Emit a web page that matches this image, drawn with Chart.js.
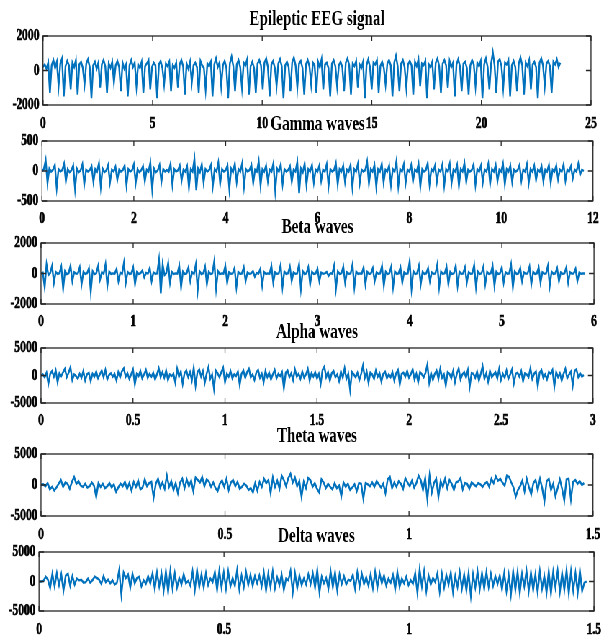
<!DOCTYPE html>
<html><head><meta charset="utf-8">
<script src="https://cdn.jsdelivr.net/npm/chart.js@4.4.0/dist/chart.umd.min.js"></script>
<style>
html,body{margin:0;padding:0;background:#fff;width:604px;height:638px;overflow:hidden}
#wrap{position:absolute;left:0;top:0;width:839px;height:638px;transform:scaleX(0.71990);transform-origin:0 0}
#wrap canvas{position:absolute;left:0}
</style></head><body><div id="wrap"></div>
<script>
// ---------- data ----------
const titles = ["Epileptic EEG signal","Gamma waves","Beta waves","Alpha waves","Theta waves","Delta waves"];
const xMaxes = [25, 12, 6, 3, 1.5, 1.5];
const xSteps = [5, 2, 1, 0.5, 0.5, 0.5];
const yLimits = [2000, 500, 2000, 5000, 5000, 5000];
const endTimes = [23.6, 11.8, 5.9, 2.95, 1.476, 1.48];

const epilepticValues = [
200,350,100,450,-1300,300,600,150,500,-900,400,700,-1500,250,550,300,-1100,450,200,600,-1400,350,500,150,-800,
400,650,200,-1600,300,500,100,450,-1000,350,600,250,-1300,400,150,500,-700,300,550,200,-1200,450,100,350,-1500,
300,600,200,450,-900,350,150,500,-1300,250,400,600,-1100,200,450,300,-1600,350,550,150,-800,400,250,500,-1200,
300,150,450,-1000,350,600,250,-1400,400,100,500,-700,300,450,200,-1300,550,300,150,-1100,400,250,500,-1500,350,
700,200,450,-900,300,550,150,-1600,400,800,250,-1200,350,600,200,-1000,450,300,650,-1400,250,500,150,-1300,400,
600,300,-1100,450,700,200,-1500,350,550,150,-900,400,650,250,-1600,300,500,200,-1200,450,750,300,-1000,400,550,
150,-1400,350,600,250,-800,450,300,-1300,500,200,650,-1100,350,450,150,-1500,400,600,250,-900,300,500,200,-1200,
450,700,300,-1400,400,250,550,-1000,350,150,500,-1600,300,650,200,-1100,450,350,600,-1300,250,500,150,-800,400,
600,300,-1500,450,850,250,-1200,400,600,200,-1000,350,550,300,-1400,500,250,650,-900,400,300,550,-1600,350,200,
500,-1100,450,700,250,-1300,400,600,300,-1000,550,200,450,-1500,350,650,250,-1200,400,500,150,-1400,300,600,350,
-900,450,250,550,-1600,350,700,200,-1100,400,1050,300,-1300,500,650,250,-1000,450,350,600,-1500,300,550,200,-1200,
400,750,300,-1400,450,250,600,-1100,350,500,200,-1600,450,700,300,-900,400,550,250,-1300,500,350,650,200,450
];

const gammaValues = [
0,30,180,-200,40,-10,20,100,-280,30,-10,15,120,-170,30,-20,10,90,-300,40,-20,10,110,-220,20,
-10,15,80,-180,30,-10,130,-260,40,-20,10,100,-190,20,-10,70,-150,20,-10,15,90,-240,30,-10,10,
110,-200,30,-20,10,80,-170,20,-10,140,-300,40,-20,10,100,-180,30,-10,15,-10,120,-230,30,-10,10,
90,-160,20,-10,80,-280,30,-10,200,-320,40,-20,110,-190,30,-10,15,100,-250,30,-10,140,-210,30,-10,
10,90,-300,40,-20,120,-180,30,-10,130,-260,30,-10,15,100,-200,20,-10,160,-240,30,-10,90,-170,20,
-10,130,-330,40,-10,110,-220,30,-10,15,80,-180,20,-10,150,-370,40,-20,120,-230,30,-10,100,-190,20,
-10,90,-160,20,-10,110,-250,30,-10,15,130,-220,30,-10,90,-180,20,-10,100,-270,30,-10,120,-200,20,
-10,15,160,-210,30,-10,100,-260,30,-10,120,-190,20,-10,90,-230,30,-10,170,-250,30,-10,110,-200,20,
-10,100,-170,20,-10,120,-260,30,-10,15,130,-220,30,-10,90,-180,20,-10,110,-240,30,-10,120,-200,20,
-10,100,-250,30,-10,130,-180,20,-10,15,110,-230,30,-10,90,-190,20,-10,120,-210,30,-10,100,-170,20,
-10,120,-220,30,-10,90,-180,20,-10,15,100,-160,20,-10,110,-200,30,-10,90,-150,20,-10,80,-170,20,
-10,100,-190,20,-10,90,-140,20,-10,110,-160,20,-10,80,-120,20,-10,120,-60,20,0
];

const betaValues = [
0,50,-900,600,-100,30,500,-600,100,-30,20,450,-1000,150,-40,20,500,-500,80,-20,10,400,-700,100,-30,
20,350,-1200,150,-40,10,500,-400,80,-20,600,-800,120,-30,10,-10,300,-500,60,-20,700,-600,100,-30,10,
400,-700,90,-30,20,200,-250,40,-10,350,-500,70,-20,10,900,-1300,600,-100,30,700,-600,100,-30,10,-10,
500,-900,120,-30,10,400,-500,80,-20,600,-1100,150,-40,10,450,-700,100,-30,10,800,-1000,150,-40,10,-10,
500,-600,80,-20,10,350,-900,100,-30,10,400,-500,70,-20,10,150,-200,30,-10,300,-800,90,-30,10,-10,
500,-600,80,-20,10,550,-900,120,-30,10,450,-500,70,-20,10,600,-1000,150,-40,10,400,-700,100,-30,10,
300,-500,60,-20,10,100,-150,20,-10,500,-1000,130,-30,10,450,-600,80,-20,10,600,-900,120,-30,10,-10,
400,-700,100,-30,10,350,-500,70,-20,10,500,-800,110,-30,10,450,-900,120,-30,10,400,-600,80,-20,10,
800,-1000,150,-40,10,500,-700,100,-30,10,350,-500,70,-20,10,600,-900,120,-30,10,450,-700,100,-30,10,
500,-800,110,-30,10,400,-600,80,-20,10,550,-900,120,-30,10,450,-700,100,-30,10,500,-800,110,-30,10,
400,-600,80,-20,10,600,-900,120,-30,10,350,-500,70,-20,10,450,-700,100,-30,10,400,-600,80,-20,10,
500,-800,110,-30,10,350,-500,70,-20,10,400,-600,80,-20,10,300,-500,60,-20,10,0
];

const alphaValues = [
0,200,-300,500,-1500,300,800,-200,900,-1200,400,-100,600,1200,-300,500,1500,-800,200,-100,
-600,300,-400,800,-900,200,500,-1000,300,-200,700,-500,200,900,-300,1000,-700,100,400,-200,
300,-900,600,-300,800,1300,-200,400,-600,200,1100,-1600,300,-100,800,-500,200,1000,-400,300,
-200,500,-700,200,1300,-300,600,-400,900,-800,200,-100,300,-1300,1200,-200,700,-1500,400,900,
-300,600,-900,1400,-1800,600,1100,-200,800,-1300,300,1500,-600,200,-2400,900,400,-300,600,1400,
-1200,300,-200,800,-500,200,-100,700,-1700,300,900,-400,600,1200,-300,200,-800,500,1000,-400,
300,-1200,800,-300,500,-700,200,1000,-500,300,-100,600,-2300,500,900,-300,400,-800,1100,-200,
300,-600,700,-400,200,1200,-900,400,-200,600,-500,300,-1500,1000,1600,-300,600,-900,400,800,
-300,200,-1000,700,-400,1300,-600,300,-2600,600,200,-300,500,-800,300,1800,-400,700,-1300,500,
200,-600,900,-200,400,-1100,300,700,-500,200,-300,600,-900,400,1000,-1600,300,500,-200,800,
-400,200,1100,-700,300,-1200,600,200,-300,500,2000,-1300,400,-800,300,900,-600,1200,-400,200,
-1800,600,300,-500,800,-1200,300,1300,-700,200,600,-300,1000,-2000,400,300,-400,700,-900,300,
1700,-600,400,-1100,800,-300,200,600,-500,1200,-800,300,-400,900,-600,200,1100,-1400,300,500,
-200,800,-1000,400,200,-300,1300,-600,300,700,-1900,500,1000,-400,200,-700,600,300,1000,-2000,
600,-300,400,-900,300,1200,-500,200,700,-1800,800,1100,-300,400,-200,100
];

const thetaValues = [
0,100,-200,300,-700,-300,-900,-400,200,800,-300,400,200,-600,500,1300,200,600,-100,-300,
200,-400,-200,400,-100,-1900,300,-300,200,-500,-200,300,-400,100,-1100,-400,200,-200,500,-600,
300,-900,500,-300,700,-700,-400,900,-200,300,500,-2000,200,1000,-400,400,-600,1500,-300,600,
-800,300,-1300,400,1000,-500,900,-200,700,-1000,1200,800,400,1300,-200,900,600,-300,400,-500,
-1000,200,700,-300,1000,-800,400,800,-200,500,-600,-300,200,-100,-800,-500,-1200,300,-900,500,
-300,1000,300,800,-1300,1200,-300,700,-600,1500,800,-200,1100,1800,400,1200,-200,600,-1900,500,
-500,1100,800,-300,300,-600,-1200,900,400,-500,200,-300,-700,300,-500,-100,-1800,400,-300,200,
-800,-400,100,-1000,300,200,-2200,300,100,-200,400,-300,600,100,-400,200,-1300,900,1300,-500,
400,-300,600,200,-600,1100,400,-200,700,-400,300,1500,800,-800,1100,-2300,1500,-1200,300,1000,
-1900,600,-300,1000,-500,800,200,-800,400,600,1100,-700,300,200,-600,400,100,-200,300,100,
-300,200,500,-300,1000,300,1400,700,1000,400,-100,1500,1300,400,-400,-1900,-800,-200,700,-1000,
1000,-300,-1500,300,800,-800,1000,-500,-2600,600,1000,-800,200,-1800,-500,900,-600,-2500,900,1000,
-2300,500,800,200,600,0,300
];

const deltaValues = [
0,0,100,800,300,-1100,1300,-800,1400,-600,1200,-1500,1000,1300,-700,900,-500,500,200,300,
-200,-100,500,-200,200,800,600,300,-400,900,-100,300,-300,200,-500,-200,1900,-2200,1500,600,
1200,-1000,1300,-300,600,800,-800,200,-400,900,-300,1400,-1200,1500,-800,1400,-1500,1700,-1700,1800,
-1200,1400,-1000,600,-500,1200,-300,100,-700,1700,-1400,1900,-900,1200,-1000,1400,-600,500,-100,1600,
-1400,1800,-1000,1500,-1200,1700,-800,600,-700,1900,-1300,1000,-900,1600,-600,1100,-700,900,-300,1000,
-800,1500,-1500,1300,-900,1700,-1100,700,-600,1200,-1400,500,200,1800,-1800,1400,-1100,1000,-600,500,
-500,1200,-400,1400,-1000,1900,-1800,800,-300,600,-1200,1700,-900,1500,-1500,1200,-400,900,-500,300,
100,1100,-1200,1500,-800,1300,-400,700,-700,1200,-1100,1600,-1000,1400,-300,1000,-700,500,-200,1100,
-1300,1600,-900,500,-300,800,-600,200,-400,1400,-1900,2000,-800,1700,-1600,1000,-500,600,-100,1400,
-1700,1300,-1000,1100,-500,1500,-1800,900,-900,1600,-1200,1200,-1500,1400,-2400,1200,-1000,1700,-1300,1400,
-1200,1600,-900,1300,-700,900,-400,1000,-1300,1400,-1600,1100,-2200,1700,-1400,1600,-1900,1300,-800,1800,
-1600,1500,-1400,1200,-1800,1700,-1200,900,-1900,1700,-2000,1600,-1000,1800,-1700,1400,-1400,1900,-2000,1700,
-1500,1400,-1900,1800,-1600,-200,0
];

const seriesValues = [epilepticValues, gammaValues, betaValues, alphaValues, thetaValues, deltaValues];

// ---------- layout (original pixel coords) ----------
const S = 604 / 839;
const W = 839;
const layoutBoxes = [
  {titleY: 20,  top: 36,  bottom: 105, labelY: 124, left: 43, right: 591},
  {titleY: 125, top: 141, bottom: 201, labelY: 219, left: 42, right: 593},
  {titleY: 228, top: 243, bottom: 304, labelY: 322, left: 41, right: 594},
  {titleY: 333, top: 348, bottom: 403, labelY: 421, left: 41, right: 593},
  {titleY: 437, top: 454, bottom: 516, labelY: 535, left: 41, right: 593},
  {titleY: 537, top: 552, bottom: 611, labelY: 630, left: 39, right: 594}
];
const FONT = "'Liberation Serif','Times New Roman',Times,serif";
const TITLE_SIZE = 21, TICK_SIZE = 16;
const BLUE = '#0072BD', AXIS = '#262626';

const boxPlugin = {
  id: 'matlabBox',
  afterDraw(chart) {
    const ctx = chart.ctx, a = chart.chartArea;
    ctx.save();
    ctx.strokeStyle = AXIS;
    ctx.lineWidth = 1.3;
    ctx.strokeRect(a.left, a.top, a.right - a.left, a.bottom - a.top);
    ctx.beginPath();
    const xs = chart.scales.x, ys = chart.scales.y;
    xs.ticks.forEach(t => {
      const px = xs.getPixelForValue(t.value);
      ctx.moveTo(px, a.bottom); ctx.lineTo(px, a.bottom - 5);
      ctx.moveTo(px, a.top); ctx.lineTo(px, a.top + 5);
    });
    ys.ticks.forEach(t => {
      const py = ys.getPixelForValue(t.value);
      ctx.moveTo(a.left, py); ctx.lineTo(a.left + 7, py);
      ctx.moveTo(a.right, py); ctx.lineTo(a.right - 7, py);
    });
    ctx.stroke();
    ctx.restore();
  }
};

const wrap = document.getElementById('wrap');
layoutBoxes.forEach((b, k) => {
  const canvasTop = b.titleY - 14;
  const canvasH = b.labelY + 14 - canvasTop;
  const cv = document.createElement('canvas');
  cv.width = W; cv.height = canvasH;
  cv.style.top = canvasTop + 'px';
  cv.style.width = W + 'px'; cv.style.height = canvasH + 'px';
  wrap.appendChild(cv);
  const vals = seriesValues[k];
  const n = vals.length;
  const pts = vals.map((v, i) => ({x: endTimes[k] * i / (n - 1), y: v}));
  const leftC = b.left / S, rightC = b.right / S;
  const padTop = (b.titleY - TITLE_SIZE / 2) - canvasTop;
  const padBottom = b.top - canvasTop - padTop - TITLE_SIZE;
  const xAxisH = canvasH - (b.bottom - canvasTop);
  const tickFont = {family: FONT, size: TICK_SIZE, weight: 'bold', lineHeight: 1.2};
  new Chart(cv, {
    type: 'line',
    data: {datasets: [{data: pts, borderColor: BLUE, borderWidth: 2.4, pointRadius: 0, tension: 0, fill: false, borderJoinStyle: 'miter'}]},
    options: {
      responsive: false, animation: false, devicePixelRatio: 1,
      layout: {padding: {left: 0, right: W - rightC, top: 0, bottom: 0}},
      plugins: {
        legend: {display: false}, tooltip: {enabled: false},
        title: {display: true, text: titles[k], fullSize: false, color: '#000',
          font: {family: FONT, size: TITLE_SIZE, weight: 'bold', lineHeight: 1},
          padding: {top: padTop, bottom: padBottom}}
      },
      scales: {
        x: {type: 'linear', min: 0, max: xMaxes[k],
          grid: {display: false, drawTicks: false}, border: {display: false},
          ticks: {stepSize: xSteps[k], autoSkip: false, maxRotation: 0, color: '#000', font: tickFont,
            textStrokeColor: '#000', textStrokeWidth: 0.6,
            padding: b.labelY - b.bottom - 9.6, callback: v => String(v)},
          afterFit: s => { s.height = xAxisH; s.paddingLeft = 0; s.paddingRight = 0; }},
        y: {type: 'linear', min: -yLimits[k], max: yLimits[k],
          grid: {display: false, drawTicks: false}, border: {display: false},
          ticks: {stepSize: yLimits[k], color: '#000', font: tickFont, padding: 5,
            textStrokeColor: '#000', textStrokeWidth: 0.6, callback: v => String(v)},
          afterFit: s => { s.width = leftC; s.paddingTop = 0; s.paddingBottom = 0; }}
      }
    },
    plugins: [boxPlugin]
  });
});
</script>
</body></html>
